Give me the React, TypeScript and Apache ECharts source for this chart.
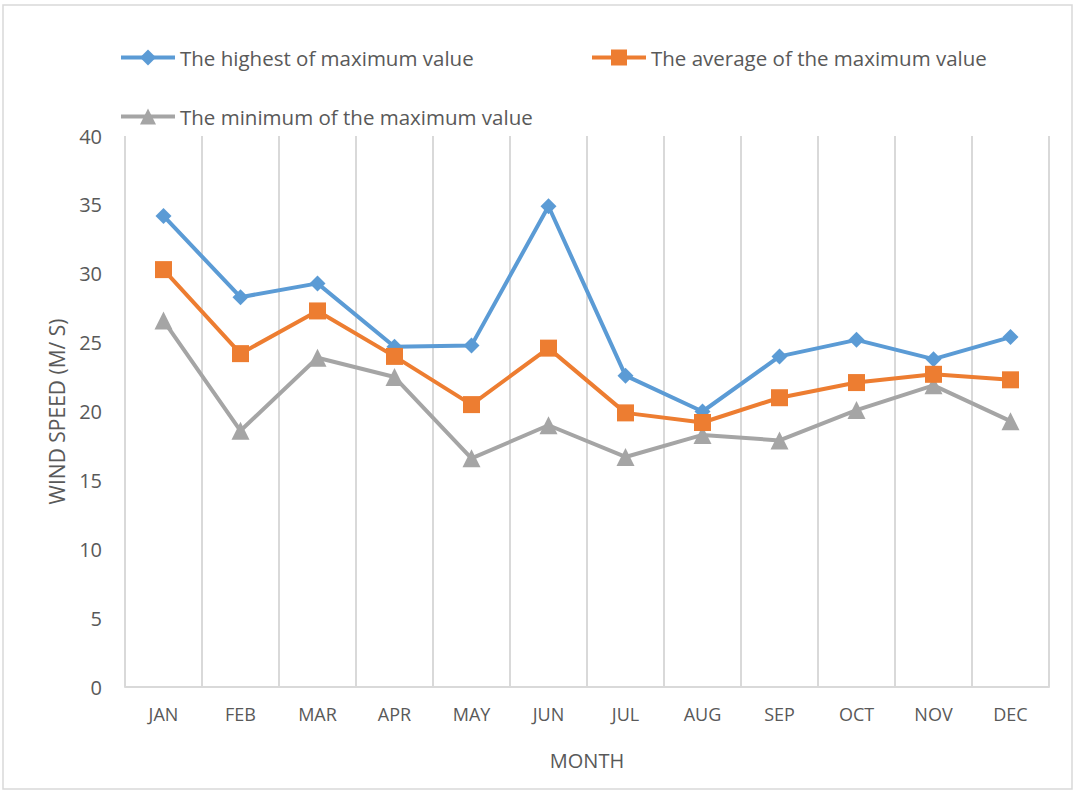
import React, { useEffect, useRef } from "react";
import * as echarts from "echarts";

const months = ["JAN", "FEB", "MAR", "APR", "MAY", "JUN", "JUL", "AUG", "SEP", "OCT", "NOV", "DEC"];
const highest = [34.2, 28.3, 29.3, 24.7, 24.8, 34.9, 22.6, 20.0, 24.0, 25.2, 23.8, 25.4];
const average = [30.3, 24.2, 27.3, 24.0, 20.5, 24.6, 19.9, 19.2, 21.0, 22.1, 22.7, 22.3];
const minimum = [26.6, 18.6, 23.9, 22.5, 16.6, 19.0, 16.7, 18.3, 17.9, 20.1, 21.9, 19.3];

const seriesNames = [
  "The highest of maximum value",
  "The average of the maximum value",
  "The minimum of the maximum value",
];
const colors = ["#5B9BD5", "#ED7D31", "#A5A5A5"];
const FONT = "'Open Sans', sans-serif";

export default function App() {
  const ref = useRef<HTMLDivElement>(null);
  useEffect(() => {
    if (!ref.current) return;
    const chart = echarts.init(ref.current, null, { renderer: "svg" });
    const legendText = { fontSize: 20.5, color: "#595959", fontFamily: FONT };
    const legendBase = {
      itemWidth: 54,
      itemHeight: 20,
      textStyle: legendText,
      lineStyle: { width: 4 },
      padding: 0,
    };
    chart.setOption({
      animation: false,
      backgroundColor: "#ffffff",
      graphic: [
        {
          type: "rect",
          shape: { x: 3, y: 5, width: 1069, height: 784 },
          style: { fill: "none", stroke: "#d9d9d9", lineWidth: 1.5 },
          silent: true,
          z: -1,
        },
      ],
      legend: [
        { ...legendBase, data: [seriesNames[0]], left: 119, top: 47 },
        { ...legendBase, data: [seriesNames[1]], left: 590, top: 47 },
        { ...legendBase, data: [seriesNames[2]], left: 119, top: 106 },
      ],
      grid: { left: 125, right: 28, top: 136, bottom: 107, containLabel: false },
      xAxis: {
        type: "category",
        data: months,
        boundaryGap: true,
        name: "MONTH",
        nameLocation: "middle",
        nameGap: 63,
        nameTextStyle: { fontSize: 20, color: "#595959", fontFamily: FONT },
        axisLine: { show: true, lineStyle: { color: "#d9d9d9", width: 2 } },
        axisTick: { show: false },
        axisLabel: { fontSize: 18, color: "#595959", fontFamily: FONT, margin: 18 },
        splitLine: { show: true, lineStyle: { color: "#d9d9d9", width: 2 } },
      },
      yAxis: {
        type: "value",
        min: 0,
        max: 40,
        interval: 5,
        name: "WIND SPEED (M/ S)",
        nameLocation: "middle",
        nameGap: 58,
        nameRotate: 90,
        nameTextStyle: { fontSize: 21, color: "#595959", fontFamily: FONT },
        axisLine: { show: false },
        axisTick: { show: false },
        axisLabel: { fontSize: 20, color: "#595959", fontFamily: FONT, margin: 23 },
        splitLine: { show: false },
      },
      series: [
        {
          name: seriesNames[0],
          type: "line",
          data: highest,
          symbol: "diamond",
          symbolSize: 16,
          color: colors[0],
          lineStyle: { width: 4, color: colors[0] },
          itemStyle: { color: colors[0] },
          z: 3,
        },
        {
          name: seriesNames[1],
          type: "line",
          data: average,
          symbol: "rect",
          symbolSize: 17,
          color: colors[1],
          lineStyle: { width: 4, color: colors[1] },
          itemStyle: { color: colors[1] },
          z: 4,
        },
        {
          name: seriesNames[2],
          type: "line",
          data: minimum,
          symbol: "triangle",
          symbolSize: 18,
          color: colors[2],
          lineStyle: { width: 4, color: colors[2] },
          itemStyle: { color: colors[2] },
          z: 2,
        },
      ],
    });
    return () => chart.dispose();
  }, []);
  return (
    <div
      ref={ref}
      style={{ position: "absolute", left: 0, top: 0, width: 1077, height: 794 }}
    />
  );
}
